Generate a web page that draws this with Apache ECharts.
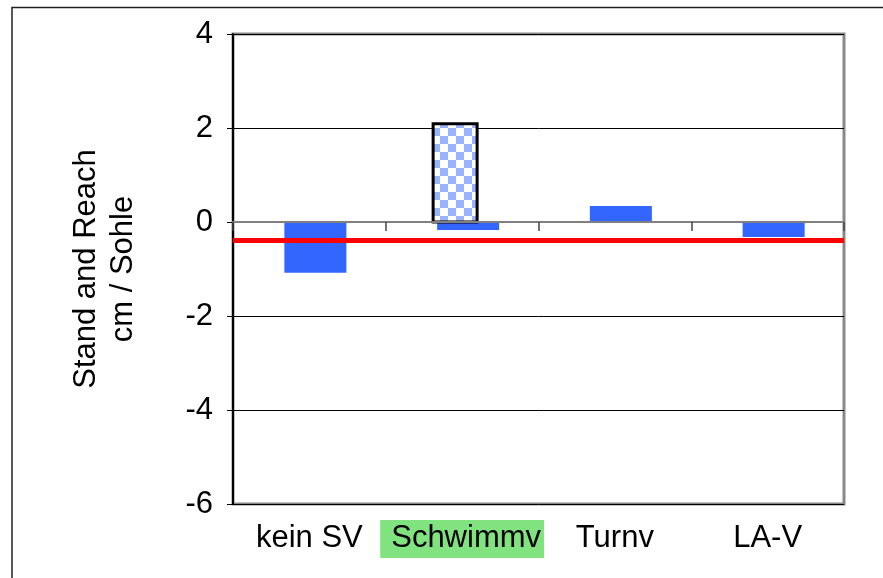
<!DOCTYPE html>
<html>
<head>
<meta charset="utf-8">
<script src="https://cdn.jsdelivr.net/npm/echarts@6/dist/echarts.min.js"></script>
<style>
  html, body { margin: 0; padding: 0; background: #fff; }
  #chart { width: 883px; height: 578px; }
</style>
</head>
<body>
<div id="chart"></div>
<script>
// Sports club groups and their Stand-and-Reach change (cm / sole)
var categories = ['kein SV', 'Schwimmv', 'Turnv', 'LA-V'];
var groupValues = [-1.08, -0.17, 0.34, -0.32];
// Comparison value shown as a checkered bar for the swimming group
var highlightValues = [null, 2.09, null, null];
// Overall mean drawn as a red reference line
var meanValue = -0.38;
var yTicks = { min: -6, max: 4, step: 2 };

var FONT = "'Liberation Sans', Arial, sans-serif";
var FS = 31;

// Checkerboard fill for the highlighted bar
function checkerPattern() {
  var c = document.createElement('canvas');
  c.width = 16; c.height = 16;
  var ctx = c.getContext('2d');
  ctx.fillStyle = '#ffffff';
  ctx.fillRect(0, 0, 16, 16);
  ctx.fillStyle = '#99b3ff';
  ctx.fillRect(0, 0, 8, 8);
  ctx.fillRect(8, 8, 8, 8);
  return { image: c, repeat: 'repeat' };
}

// Draws a bar from 0 to the value at the category centre, shifted a little
function barRenderer(width, shift, style) {
  return function (params, api) {
    var v = api.value(1);
    if (v == null || isNaN(v)) return null;
    var base = api.coord([api.value(0), 0]);
    var top = api.coord([api.value(0), v]);
    var x = base[0] + shift - width / 2;
    var y = Math.min(base[1], top[1]);
    var h = Math.abs(base[1] - top[1]);
    return { type: 'rect', shape: { x: x, y: y, width: width, height: h }, style: style };
  };
}

var chart = echarts.init(document.getElementById('chart'), null, { renderer: 'canvas' });

chart.setOption({
  animation: false,
  backgroundColor: '#ffffff',
  textStyle: { fontFamily: FONT },
  grid: {
    left: 233, right: 39, top: 34, bottom: 74,
    show: true, borderColor: '#888888', borderWidth: 3, backgroundColor: 'transparent'
  },
  graphic: [
    { type: 'polyline', silent: true, z: 0,
      shape: { points: [[12, 578], [12, 7.5], [883, 7.5]] },
      style: { stroke: '#222', lineWidth: 1.5, fill: null } }
  ],
  xAxis: [
    {
      type: 'category', data: categories, boundaryGap: true, z: 5,
      axisLine: { show: true, onZero: true, lineStyle: { color: '#808080', width: 2 } },
      axisTick: { show: true, length: 9, lineStyle: { color: '#444', width: 1.5 } },
      axisLabel: { show: false },
      splitLine: { show: false }
    },
    {
      type: 'category', data: categories, position: 'bottom', boundaryGap: true,
      axisLine: { show: false, onZero: false },
      axisTick: { show: false },
      axisLabel: {
        show: true, interval: 0, margin: 18, fontSize: FS, color: '#000', fontFamily: FONT,
        formatter: function (v) { return v === 'Schwimmv' ? '{hl|' + v + '}' : '{n|' + v + '}'; },
        rich: {
          n: { fontSize: FS, lineHeight: 34, color: '#000', fontFamily: FONT, padding: [3, 0, 4, 0] },
          hl: { fontSize: FS, lineHeight: 34, color: '#000', fontFamily: FONT,
                backgroundColor: '#80e380', padding: [3, 3, 4, 11] }
        }
      }
    }
  ],
  yAxis: {
    type: 'value', min: yTicks.min, max: yTicks.max, interval: yTicks.step,
    name: 'Stand and Reach\ncm / Sohle',
    nameLocation: 'middle', nameRotate: 90, nameGap: 91,
    nameTextStyle: { fontSize: FS, lineHeight: 37, color: '#000', fontFamily: FONT, align: 'center' },
    axisLine: { show: true, lineStyle: { color: '#000', width: 2 } },
    axisTick: { show: true, length: 6, lineStyle: { color: '#000', width: 1 } },
    axisLabel: { fontSize: FS, color: '#000', margin: 20, fontFamily: FONT },
    splitLine: { show: true, lineStyle: { color: '#000', width: 1 } }
  },
  series: [
    {
      name: 'Mittelwert', type: 'line', data: [], xAxisIndex: 0, z: 1,
      markLine: {
        silent: true, symbol: ['none', 'none'], label: { show: false },
        lineStyle: { color: '#ff0000', width: 5, type: 'solid' },
        data: [{ yAxis: meanValue }]
      }
    },
    {
      name: 'Gruppen', type: 'custom', xAxisIndex: 0, z: 3,
      data: groupValues.map(function (v, i) { return [i, v]; }),
      encode: { x: 0, y: 1 },
      renderItem: barRenderer(62, 6, { fill: '#3366ff', stroke: null })
    },
    {
      name: 'Vergleich', type: 'custom', xAxisIndex: 0, z: 4,
      data: highlightValues.map(function (v, i) { return [i, v]; }),
      encode: { x: 0, y: 1 },
      renderItem: barRenderer(44, -7, { fill: checkerPattern(), stroke: '#000', lineWidth: 3 })
    }
  ]
});
</script>
</body>
</html>
